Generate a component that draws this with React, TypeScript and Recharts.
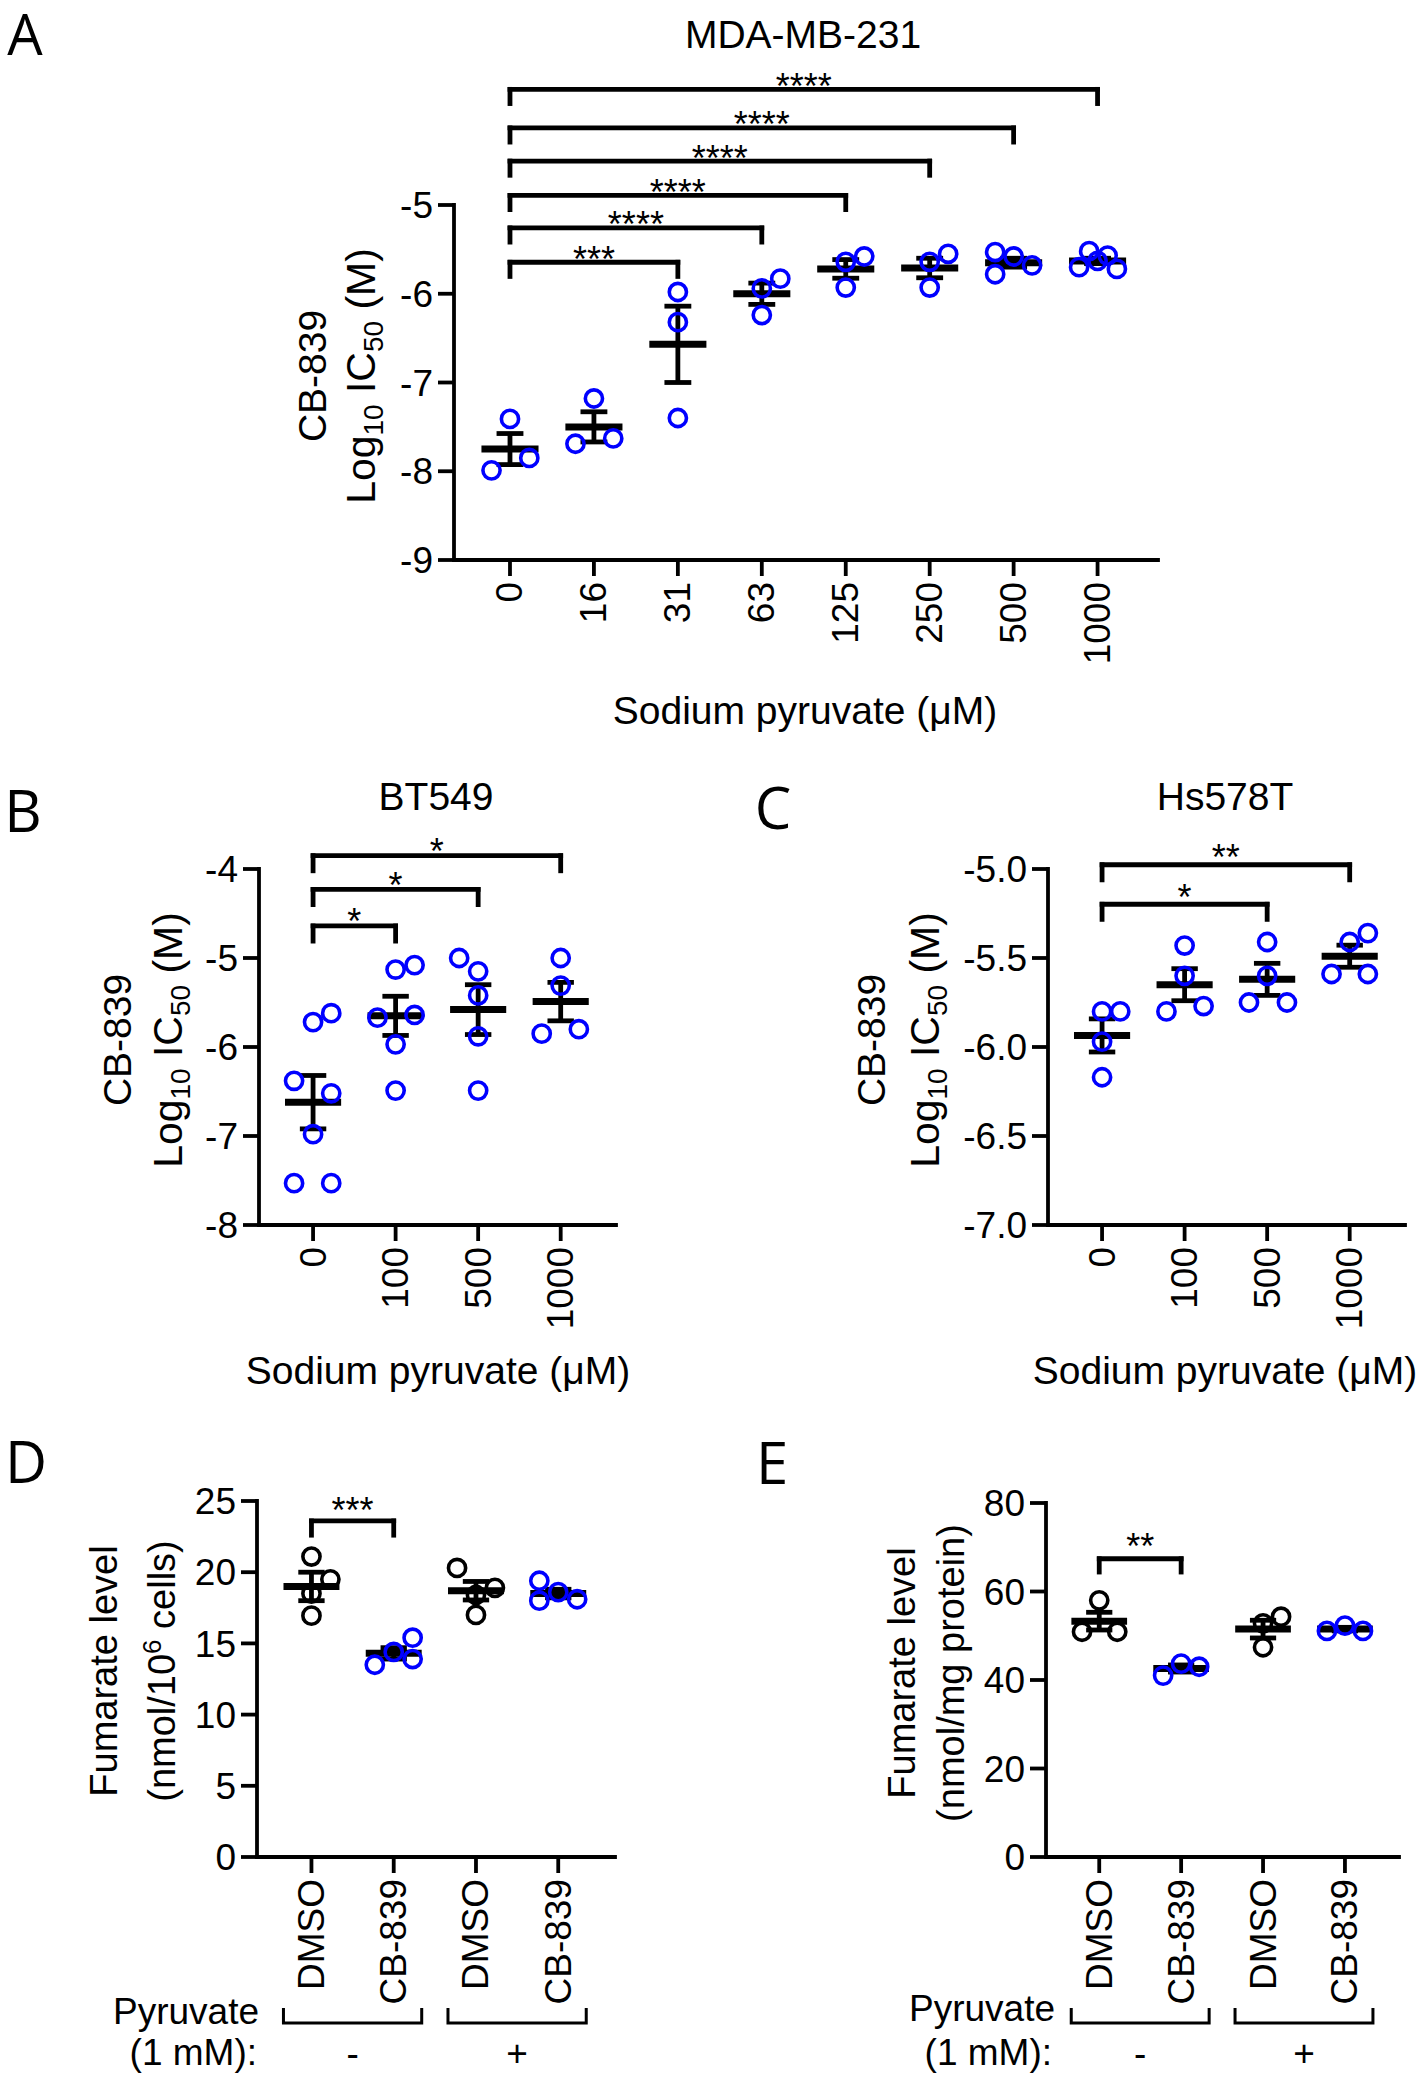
import React from "react";
import { ComposedChart, Scatter, XAxis, YAxis, ReferenceLine } from "recharts";

const FONT = "'Liberation Sans', Arial, Helvetica, sans-serif";
const LETTER_FONT = "'Open Sans', 'Noto Sans', sans-serif";
const BLUE = "#0000ff";
const BLACK = "#000000";

// [category index, horizontal jitter (category widths), value]
type Pt = [number, number, number];
// [from category, to category, bracket height, stars]
type Br = [number, number, number, string];

// A - MDA-MB-231
const catsA = ["0", "16", "31", "63", "125", "250", "500", "1000"];
const ptsA: Pt[] = [
  [0, 0, -7.41], [0, 0.23, -7.85], [0, -0.22, -7.99],
  [1, 0, -7.18], [1, -0.22, -7.69], [1, 0.23, -7.63],
  [2, 0, -5.98], [2, 0, -6.32], [2, 0, -7.4],
  [3, 0, -5.94], [3, 0.22, -5.83], [3, 0, -6.24],
  [4, 0, -5.64], [4, 0.22, -5.58], [4, 0, -5.93],
  [5, 0, -5.64], [5, 0.22, -5.55], [5, 0, -5.93],
  [6, -0.22, -5.53], [6, 0, -5.58], [6, 0.22, -5.68], [6, -0.22, -5.78],
  [7, -0.1, -5.52], [7, 0.12, -5.57], [7, 0, -5.63], [7, -0.22, -5.7], [7, 0.23, -5.72],
];
const meanA = [-7.75, -7.5, -6.57, -6.0, -5.72, -5.71, -5.65, -5.63];
const semA = [0.175, 0.17, 0.43, 0.12, 0.105, 0.11, 0.05, 0.03];
const brA: Br[] = [
  [0, 2, -5.645, "***"],
  [0, 3, -5.258, "****"],
  [0, 4, -4.892, "****"],
  [0, 5, -4.505, "****"],
  [0, 6, -4.131, "****"],
  [0, 7, -3.697, "****"],
];
const yTicksA = [-9, -8, -7, -6, -5];

// B - BT549
const catsB = ["0", "100", "500", "1000"];
const ptsB: Pt[] = [
  [0, 0, -5.72], [0, 0.22, -5.62], [0, -0.23, -6.38], [0, 0.22, -6.52], [0, 0, -6.98], [0, -0.23, -7.53], [0, 0.22, -7.53],
  [1, 0, -5.13], [1, 0.23, -5.08], [1, -0.22, -5.67], [1, 0.23, -5.64], [1, 0, -5.97], [1, 0, -6.49],
  [2, -0.23, -5.0], [2, 0, -5.15], [2, 0, -5.42], [2, 0, -5.88], [2, 0, -6.49],
  [3, 0, -5.0], [3, 0, -5.31], [3, -0.23, -5.85], [3, 0.22, -5.8],
];
const meanB = [-6.62, -5.65, -5.58, -5.49];
const semB = [0.3, 0.22, 0.28, 0.216];
const brB: Br[] = [
  [0, 1, -4.64, "*"],
  [0, 2, -4.23, "*"],
  [0, 3, -3.85, "*"],
];
const yTicksB = [-8, -7, -6, -5, -4];

// C - Hs578T
const catsC = ["0", "100", "500", "1000"];
const ptsC: Pt[] = [
  [0, 0, -5.8], [0, 0.22, -5.8], [0, 0, -5.97], [0, 0, -6.17],
  [1, 0, -5.43], [1, 0, -5.6], [1, -0.22, -5.8], [1, 0.23, -5.77],
  [2, 0, -5.41], [2, 0, -5.6], [2, -0.22, -5.75], [2, 0.24, -5.75],
  [3, 0.22, -5.36], [3, 0, -5.41], [3, -0.22, -5.59], [3, 0.22, -5.59],
];
const meanC = [-5.935, -5.65, -5.62, -5.49];
const semC = [0.093, 0.09, 0.09, 0.062];
const brC: Br[] = [
  [0, 2, -5.198, "*"],
  [0, 3, -4.976, "**"],
];
const yTicksC = [-7, -6.5, -6, -5.5, -5];

// D - fumarate per 10^6 cells
const catsD = ["DMSO", "CB-839", "DMSO", "CB-839"];
const ptsD: Pt[] = [
  [0, 0, 21.1], [0, 0.23, 19.5], [0, 0, 18.5], [0, 0, 16.95],
  [1, -0.23, 13.5], [1, 0, 14.4], [1, 0.23, 15.4], [1, 0.23, 13.9],
  [2, -0.23, 20.3], [2, 0.23, 18.9], [2, 0, 18.4], [2, 0, 17.0],
  [3, -0.23, 19.4], [3, 0, 18.6], [3, -0.23, 18.0], [3, 0.23, 18.1],
];
const meanD = [19.0, 14.3, 18.7, 18.5];
const semD = [1.0, 0.4, 0.65, 0.3];
const brD: Br[] = [[0, 1, 23.6, "***"]];
const yTicksD = [0, 5, 10, 15, 20, 25];

// E - fumarate per mg protein
const catsE = ["DMSO", "CB-839", "DMSO", "CB-839"];
const ptsE: Pt[] = [
  [0, 0, 58.0], [0, -0.21, 50.9], [0, 0.22, 50.9],
  [1, -0.22, 41.0], [1, 0, 43.7], [1, 0.22, 43.0],
  [2, 0.22, 54.3], [2, 0, 52.8], [2, 0, 47.4],
  [3, -0.22, 51.1], [3, 0, 52.3], [3, 0.22, 51.1],
];
const meanE = [53.3, 42.6, 51.5, 51.5];
const semE = [2.0, 0.8, 2.0, 0.4];
const brE: Br[] = [[0, 1, 67.4, "**"]];
const yTicksE = [0, 20, 40, 60, 80];

// pyruvate groups: each spans two neighbouring categories
const pyruvateGroups = ["-", "+"];

const allBlue = [BLUE, BLUE, BLUE, BLUE, BLUE, BLUE, BLUE, BLUE];
const mixed = [BLACK, BLUE, BLACK, BLUE];

function RotTick(props: any) {
  const { x, y, payload, labels, groups, step } = props;
  const i = Math.round(payload.value);
  let grp = null;
  if (groups && i % 2 === 0) {
    const x1 = x - 28;
    const x2 = x + step + 28;
    grp = (
      <g>
        <path
          d={`M${x1},${y + 129} L${x1},${y + 144} L${x2},${y + 144} L${x2},${y + 129}`}
          fill="none"
          stroke={BLACK}
          strokeWidth={3}
        />
        <text
          x={(x1 + x2) / 2}
          y={y + 187}
          textAnchor="middle"
          fontSize={37}
          fontFamily={FONT}
          fill={BLACK}
        >
          {groups[i / 2]}
        </text>
      </g>
    );
  }
  return (
    <g>
      <text
        x={x}
        y={y}
        transform={`rotate(-90 ${x} ${y})`}
        textAnchor="end"
        dominantBaseline="central"
        fontSize={37}
        fontFamily={FONT}
        fill={BLACK}
      >
        {labels[i]}
      </text>
      {grp}
    </g>
  );
}

interface PanelProps {
  left: number;
  top: number;
  width: number;
  height: number;
  plotTop: number;
  yAxisWidth: number;
  marginRight: number;
  marginBottom: number;
  xAxisHeight: number;
  xDomain: [number, number];
  yDomain: [number, number];
  yTicks: number[];
  yFmt?: (v: number) => string;
  cats: string[];
  pts: Pt[];
  means: number[];
  sems: number[];
  colors: string[];
  brackets: Br[];
  legDrop: number;
  starOffset: number;
  groups?: string[];
}

function Panel(p: PanelProps) {
  const uniq = Array.from(new Set(p.colors.slice(0, p.cats.length)));
  const scatters = uniq.map((col) => {
    const data = p.pts
      .filter(([c]) => p.colors[c] === col)
      .map(([c, j, v]) => ({ x: c + j, y: v }));
    return (
      <Scatter
        key={col}
        data={data}
        isAnimationActive={false}
        shape={(s: any) => (
          <circle cx={s.cx} cy={s.cy} r={8.6} fill="none" stroke={col} strokeWidth={3.6} />
        )}
      />
    );
  });

  const seg = (key: string, x1: number, y1: number, x2: number, y2: number, w: number, extra: any = {}) => (
    <ReferenceLine
      key={key}
      segment={[{ x: x1, y: y1 }, { x: x2, y: y2 }]}
      stroke={BLACK}
      strokeWidth={w}
      ifOverflow="visible"
      {...extra}
    />
  );

  const bars = p.means.flatMap((m, i) => {
    const s = p.sems[i];
    return [
      seg(`e${i}`, i, m - s, i, m + s, 4.8),
      seg(`u${i}`, i - 0.16, m + s, i + 0.16, m + s, 4.8),
      seg(`d${i}`, i - 0.16, m - s, i + 0.16, m - s, 4.8),
      seg(`m${i}`, i - 0.34, m, i + 0.34, m, 7),
    ];
  });

  const brackets = p.brackets.flatMap(([a, b, h, stars], k) => [
    seg(`bh${k}`, a, h, b, h, 4.8, {
      strokeLinecap: "square",
      label: { value: stars, position: "top", offset: p.starOffset, fontSize: 36, fill: BLACK, fontFamily: FONT },
    }),
    seg(`bl${k}`, a, h, a, h - p.legDrop, 4.8, { strokeLinecap: "square" }),
    seg(`br${k}`, b, h, b, h - p.legDrop, 4.8, { strokeLinecap: "square" }),
  ]);

  const plotWidth = p.width - p.yAxisWidth - p.marginRight;
  const step = plotWidth / (p.xDomain[1] - p.xDomain[0]);

  return (
    <div style={{ position: "absolute", left: p.left, top: p.top }}>
      <ComposedChart
        width={p.width}
        height={p.height}
        margin={{ top: p.plotTop, right: p.marginRight, left: 0, bottom: p.marginBottom }}
      >
        <XAxis
          type="number"
          dataKey="x"
          domain={p.xDomain}
          ticks={p.cats.map((_, i) => i)}
          allowDataOverflow
          interval={0}
          height={p.xAxisHeight}
          axisLine={{ stroke: BLACK, strokeWidth: 3.8, strokeLinecap: "square" }}
          tickLine={{ stroke: BLACK, strokeWidth: 3.8 }}
          tickSize={16}
          tickMargin={6}
          tick={(t: any) => <RotTick {...t} labels={p.cats} groups={p.groups} step={step} />}
        />
        <YAxis
          type="number"
          dataKey="y"
          domain={p.yDomain}
          ticks={p.yTicks}
          allowDataOverflow
          interval={0}
          width={p.yAxisWidth}
          tickFormatter={p.yFmt}
          axisLine={{ stroke: BLACK, strokeWidth: 3.8, strokeLinecap: "square" }}
          tickLine={{ stroke: BLACK, strokeWidth: 3.8 }}
          tickSize={16}
          tickMargin={5}
          tick={{ fontSize: 37, fill: BLACK, fontFamily: FONT }}
        />
        {scatters}
        {bars}
        {brackets}
      </ComposedChart>
    </div>
  );
}

function Txt(props: {
  x: number;
  y: number;
  size?: number;
  rot?: boolean;
  right?: boolean;
  family?: string;
  children: React.ReactNode;
}) {
  const { x, y, size = 39, rot = false, right = false, family = FONT, children } = props;
  return (
    <div
      style={{
        position: "absolute",
        left: x,
        top: y,
        transform: `translate(${right ? "-100%" : "-50%"}, -50%)${rot ? " rotate(-90deg)" : ""}`,
        fontSize: size,
        fontFamily: family,
        lineHeight: 1.1,
        whiteSpace: "nowrap",
        color: BLACK,
      }}
    >
      {children}
    </div>
  );
}

const sub = (t: string) => (
  <span style={{ fontSize: "0.68em", position: "relative", top: "0.3em" }}>{t}</span>
);
const sup = (t: string) => (
  <span style={{ fontSize: "0.68em", position: "relative", top: "-0.55em" }}>{t}</span>
);

const logLabel = (
  <>
    Log{sub("10")} IC{sub("50")} (M)
  </>
);

export default function App() {
  return (
    <div
      style={{
        position: "absolute",
        left: 0,
        top: 0,
        width: 1418,
        height: 2083,
        background: "#ffffff",
        overflow: "hidden",
      }}
    >
      <Panel
        left={0} top={0} width={1200} height={760}
        plotTop={205} yAxisWidth={454} marginRight={42} marginBottom={80} xAxisHeight={120}
        xDomain={[-0.667, 7.72]} yDomain={[-9, -5]} yTicks={yTicksA}
        cats={catsA} pts={ptsA} means={meanA} sems={semA} colors={allBlue}
        brackets={brA} legDrop={0.16} starOffset={-9.5}
      />
      <Panel
        left={0} top={740} width={700} height={640}
        plotTop={129} yAxisWidth={259} marginRight={84} marginBottom={35} xAxisHeight={120}
        xDomain={[-0.655, 3.67]} yDomain={[-8, -4]} yTicks={yTicksB}
        cats={catsB} pts={ptsB} means={meanB} sems={semB} colors={allBlue}
        brackets={brB} legDrop={0.17} starOffset={-8.5}
      />
      <Panel
        left={740} top={740} width={678} height={640}
        plotTop={129} yAxisWidth={308} marginRight={13} marginBottom={35} xAxisHeight={120}
        xDomain={[-0.655, 3.67]} yDomain={[-7, -5]} yTicks={yTicksC} yFmt={(v) => v.toFixed(1)}
        cats={catsC} pts={ptsC} means={meanC} sems={semC} colors={allBlue}
        brackets={brC} legDrop={0.085} starOffset={-5.5}
      />
      <Panel
        left={0} top={1400} width={700} height={683}
        plotTop={101} yAxisWidth={257} marginRight={85} marginBottom={76} xAxisHeight={150}
        xDomain={[-0.662, 3.69]} yDomain={[0, 25]} yTicks={yTicksD}
        cats={catsD} pts={ptsD} means={meanD} sems={semD} colors={mixed}
        brackets={brD} legDrop={1.0} starOffset={-2.5} groups={pyruvateGroups}
      />
      <Panel
        left={740} top={1400} width={678} height={683}
        plotTop={103} yAxisWidth={306} marginRight={19} marginBottom={76} xAxisHeight={150}
        xDomain={[-0.65, 3.66]} yDomain={[0, 80]} yTicks={yTicksE}
        cats={catsE} pts={ptsE} means={meanE} sems={semE} colors={mixed}
        brackets={brE} legDrop={3.0} starOffset={-0.5} groups={pyruvateGroups}
      />

      {/* panel letters */}
      <Txt x={25} y={34} size={56} family={LETTER_FONT}>A</Txt>
      <Txt x={23} y={810} size={58} family={LETTER_FONT}>B</Txt>
      <Txt x={773} y={807} size={58} family={LETTER_FONT}>C</Txt>
      <Txt x={26} y={1461} size={58} family={LETTER_FONT}>D</Txt>
      <Txt x={772} y={1462} size={58} family={LETTER_FONT}>E</Txt>

      {/* titles */}
      <Txt x={803} y={35}>MDA-MB-231</Txt>
      <Txt x={436} y={797}>BT549</Txt>
      <Txt x={1225} y={797}>Hs578T</Txt>

      {/* y axis titles */}
      <Txt x={313} y={376} rot>CB-839</Txt>
      <Txt x={362} y={376} rot size={41}>{logLabel}</Txt>
      <Txt x={118} y={1040} rot>CB-839</Txt>
      <Txt x={169} y={1040} rot size={41}>{logLabel}</Txt>
      <Txt x={872} y={1040} rot>CB-839</Txt>
      <Txt x={926} y={1040} rot size={41}>{logLabel}</Txt>
      <Txt x={105} y={1671} rot size={38}>Fumarate level</Txt>
      <Txt x={163} y={1671} rot size={38}>(nmol/10{sup("6")} cells)</Txt>
      <Txt x={903} y={1673} rot size={38}>Fumarate level</Txt>
      <Txt x={952} y={1673} rot size={38}>(nmol/mg protein)</Txt>

      {/* x axis titles */}
      <Txt x={805} y={711}>Sodium pyruvate (μM)</Txt>
      <Txt x={438} y={1371}>Sodium pyruvate (μM)</Txt>
      <Txt x={1225} y={1371}>Sodium pyruvate (μM)</Txt>

      {/* treatment group captions */}
      <Txt x={259} y={2012} right size={37}>Pyruvate</Txt>
      <Txt x={257} y={2053} right size={37}>(1 mM):</Txt>
      <Txt x={1055} y={2009} right size={37}>Pyruvate</Txt>
      <Txt x={1052} y={2053} right size={37}>(1 mM):</Txt>
    </div>
  );
}
